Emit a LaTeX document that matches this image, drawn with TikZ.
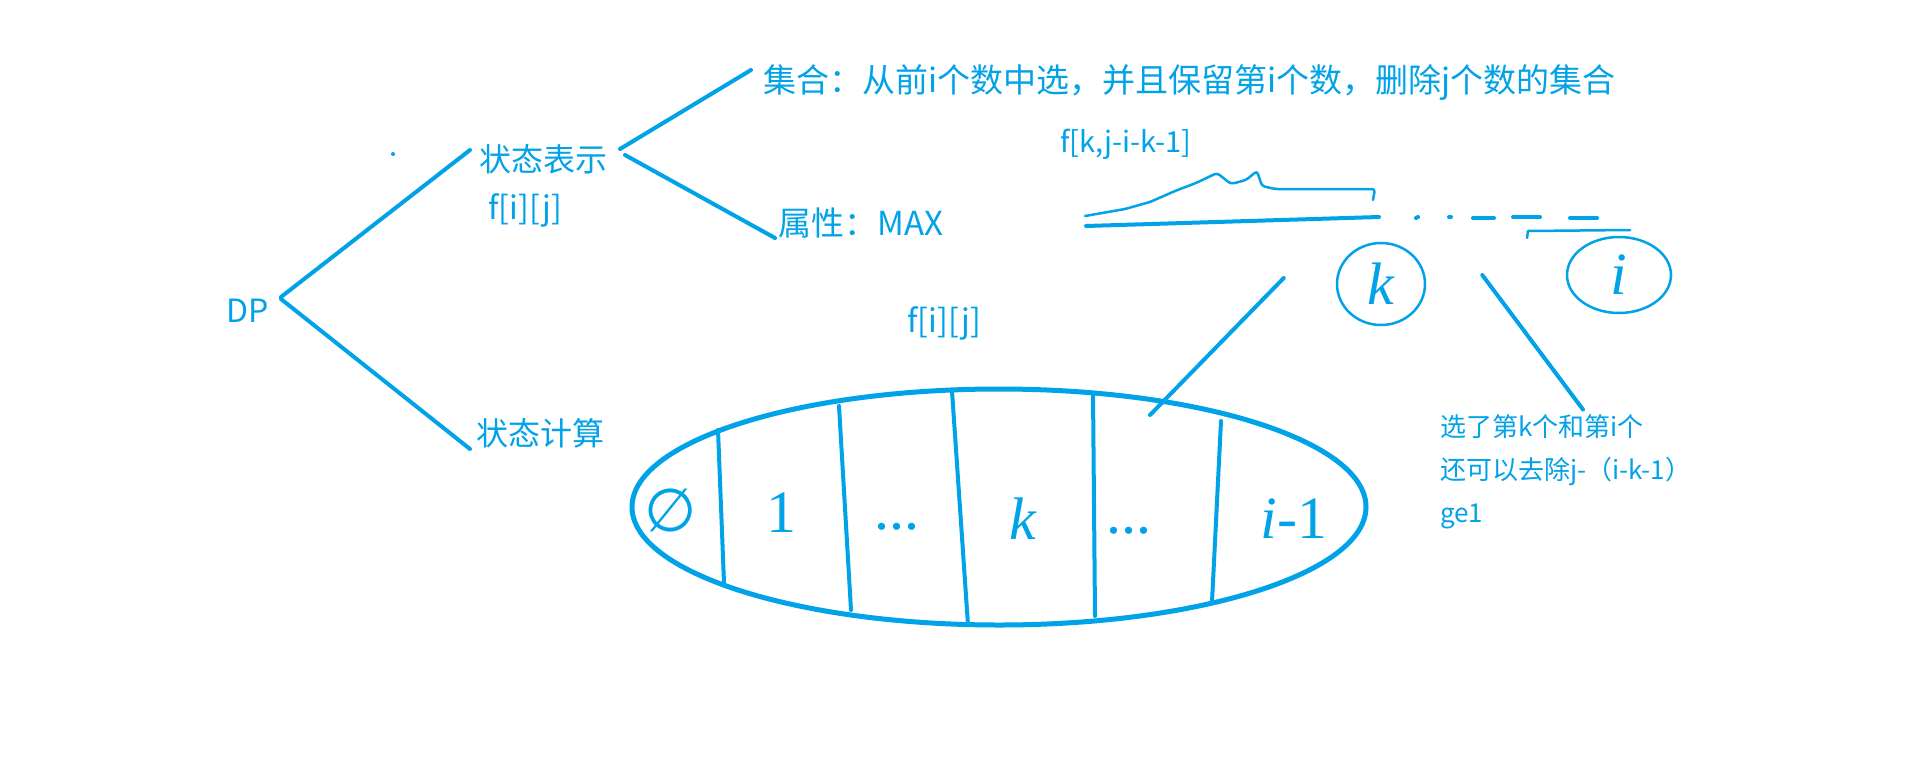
\documentclass[tikz,border=0pt]{standalone}
\usepackage{fontspec}
\setmainfont{Noto Sans CJK SC}
\newfontfamily\handfont{Liberation Serif}
\newfontfamily\dejavu{DejaVu Sans}
\usetikzlibrary{shapes.geometric}
\definecolor{ink}{RGB}{0,162,232}

\begin{document}
\begin{tikzpicture}[x=1pt,y=-1pt,
  word/.style={text=ink,font=\fontsize{32}{38}\selectfont,inner sep=0pt},
  smallword/.style={text=ink,font=\fontsize{26}{43}\selectfont,inner sep=0pt},
  scrawl/.style={text=ink,font=\handfont\fontsize{60}{60}\selectfont,inner sep=0pt},
  pen/.style={draw=ink,line width=4pt,line cap=round},
  fine/.style={draw=ink,line width=2.5pt,line cap=round,line join=round}]
\useasboundingbox[fill=white] (0,0) rectangle (1914,774);
% left tree
\node[word] (dp) at (248,311) {DP};
\node[word,anchor=west] (biaoshi) at (479,159) {状态表示};
\node[word,anchor=west] (fij) at (488,210) {f[i][j]};
\node[word,anchor=west,font=\fontsize{33}{38}\selectfont] (jihe) at (763,83) {集合：从前i个数中选，并且保留第i个数，删除j个数的集合};
\node[word,anchor=west,font=\fontsize{33}{38}\selectfont] (shuxing) at (778,223) {属性：MAX};
\node[word,anchor=west] (jisuan) at (476,433) {状态计算};
\fill[ink] (393,154) circle (2);
\draw[pen] ([shift={(33,-14)}]dp.center) -- ([shift={(-9,-9)}]biaoshi.west);
\draw[pen] ([shift={(33,-12)}]dp.center) -- ([shift={(-6,16)}]jisuan.west);
\draw[pen] ([shift={(141,-10)}]biaoshi.west) -- ([shift={(-12,-13)}]jihe.west);
\draw[pen] ([shift={(146,-4)}]biaoshi.west) -- ([shift={(-3,15)}]shuxing.west);
% the set, split by k
\node[word,anchor=west] (fijset) at (907,323) {f[i][j]};
\node[draw=ink,line width=5pt,ellipse,minimum width=734pt,minimum height=236pt,inner sep=0pt] (set) at (999,507) {};
\draw[pen] (718,430) -- (724,583);
\draw[pen] (839,406) -- (851,610);
\draw[pen] (952,391) -- (968,625);
\draw[pen] (1093,393) -- (1095,616);
\draw[pen] (1221,421) -- (1212,602);
\node[scrawl] (p0) at (671,510) {\dejavu ∅};
\node[scrawl] (p1) at (781,513) {1};
\node[scrawl] (p2) at (897,527) {...};
\node[scrawl,font=\handfont\itshape\fontsize{60}{60}\selectfont] (pk) at (1023,519) {k};
\node[scrawl] (p3) at (1129,531) {...};
\node[scrawl] (pi) at (1294,519) {\itshape i\upshape-1};
% sketch of the sequence
\node[smallword,anchor=west,font=\fontsize{29}{34}\selectfont] (fk) at (1060,144) {f[k,j-i-k-1]};
\draw[fine,rounded corners=3pt] (1085,216) -- (1125,209) -- (1150,202) -- (1175,191) -- (1196,183) -- (1217,173) -- (1231,184) -- (1246,180) -- (1257,171) -- (1262,186) -- (1275,189) -- (1375,189) -- (1373,200);
\draw[pen] (1086,226) -- (1379,217);
\draw[pen] (1416,218) -- (1418,217);
\draw[pen] (1449,217) -- (1451,217);
\draw[pen] (1473,218) -- (1494,218);
\draw[pen] (1513,217) -- (1540,217);
\draw[pen] (1570,218) -- (1597,218);
\node[scrawl,fine,ellipse,minimum width=88pt,minimum height=82pt,font=\handfont\itshape\fontsize{60}{60}\selectfont] (kc) at (1381,284) {k};
\node[scrawl,fine,ellipse,minimum width=104pt,minimum height=76pt,font=\handfont\itshape\fontsize{60}{60}\selectfont] (ic) at (1619,275) {i};
\draw[fine] (1527,238) -- (1528,231) -- (1630,230);
\node[smallword,anchor=west,align=left] (note) at (1440,472) {选了第k个和第i个\\还可以去除j-（i-k-1）\\ge1};
\draw[pen] ([shift={(151,-92)}]set.center) -- ([shift={(-52,-6)}]kc.west);
\draw[pen] ([shift={(56,-9)}]kc.east) -- ([shift={(143,-5)}]note.north west);
\end{tikzpicture}
\end{document}
